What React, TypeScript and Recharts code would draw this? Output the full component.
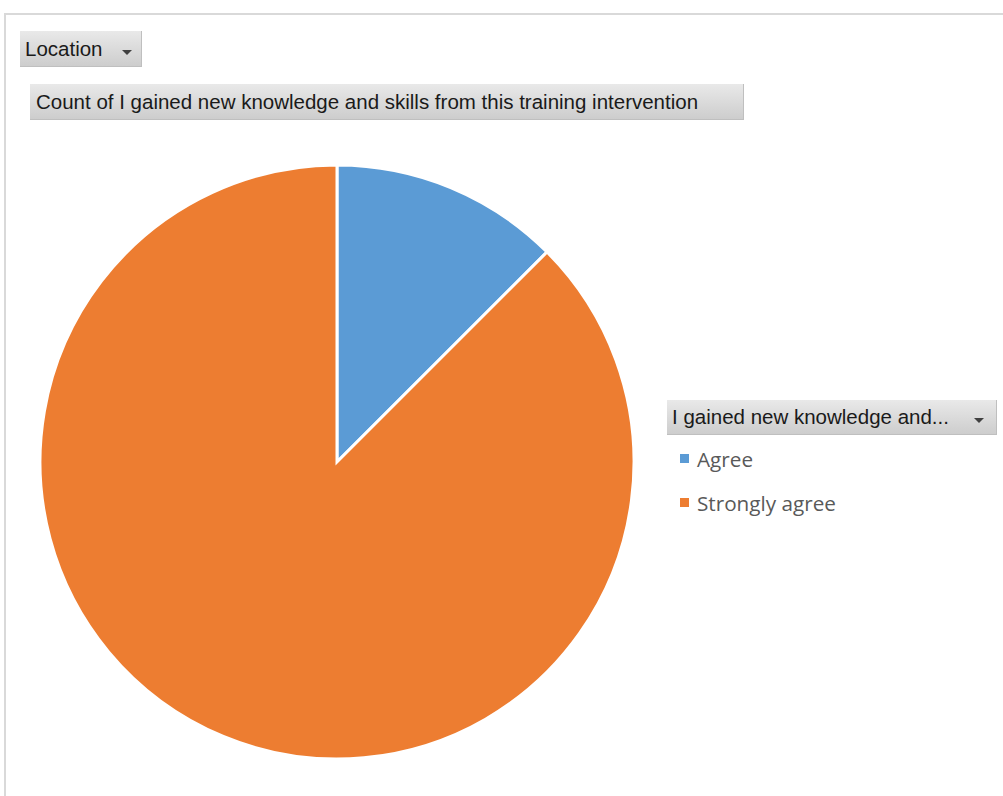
import React from 'react'
import { PieChart, Pie, Cell, Legend } from 'recharts'

// pivot chart: count of responses per answer
const answers = ['Agree', 'Strongly agree']
const counts = [1, 7]
const colors = ['#5B9BD5', '#ED7D31']

const filterLabel = 'Location'
const valueLabel = 'Count of I gained new knowledge and skills from this training intervention'
const legendLabel = 'I gained new knowledge and...'

const pieData = answers.map((name, i) => ({ name, value: counts[i] }))

const btnFont = '"Liberation Sans", Arial, sans-serif'

const Arrow = () => (
  <svg width="10" height="6" style={{ display: 'inline-block' }}>
    <path d="M0 0 L10 0 L5 5 Z" fill="#404040" />
  </svg>
)

const buttonStyle: React.CSSProperties = {
  position: 'absolute',
  background: 'linear-gradient(#e9e9e9, #cdcdcd)',
  borderRight: '1px solid #bfbfbf',
  borderBottom: '1px solid #bfbfbf',
  boxSizing: 'border-box',
  fontFamily: btnFont,
  fontSize: 20.5,
  color: '#1a1a1a',
  display: 'flex',
  alignItems: 'center',
  whiteSpace: 'nowrap',
}

const LegendBox = () => (
  <div style={{ width: 330 }}>
    <div style={{ ...buttonStyle, position: 'relative', width: 330, height: 35, paddingLeft: 5 }}>
      <span style={{ flex: 1 }}>{legendLabel}</span>
      <span style={{ marginRight: 12 }}><Arrow /></span>
    </div>
    {answers.map((a, i) => (
      <div
        key={a}
        style={{
          display: 'flex',
          alignItems: 'center',
          height: 44,
          paddingTop: 3,
          boxSizing: 'border-box',
          paddingLeft: 13,
          fontFamily: '"Open Sans", "Noto Sans", sans-serif',
          fontSize: 20.7,
          color: '#595959',
        }}
      >
        <span style={{ width: 9, height: 9, background: colors[i], marginRight: 8, display: 'inline-block' }} />
        {a}
      </div>
    ))}
  </div>
)

export default function App() {
  return (
    <div style={{ position: 'absolute', left: 0, top: 0, width: 1003, height: 796, background: '#fff', overflow: 'hidden' }}>
      <div
        style={{
          position: 'absolute',
          left: 4,
          top: 13,
          width: 1010,
          height: 800,
          borderLeft: '2px solid #d9d9d9',
          borderTop: '2px solid #d9d9d9',
        }}
      />
      <div style={{ ...buttonStyle, left: 20, top: 31, width: 122, height: 36, paddingLeft: 5 }}>
        <span style={{ flex: 1 }}>{filterLabel}</span>
        <span style={{ marginRight: 9 }}><Arrow /></span>
      </div>
      <div style={{ ...buttonStyle, left: 30, top: 84, width: 714, height: 36, paddingLeft: 6 }}>
        {valueLabel}
      </div>
      <div style={{ position: 'absolute', left: 0, top: 0 }}>
        <PieChart width={1003} height={796} margin={{ top: 0, right: 0, bottom: 0, left: 0 }}>
          <Pie
            data={pieData}
            dataKey="value"
            nameKey="name"
            cx={337}
            cy={462}
            outerRadius={297}
            startAngle={90}
            endAngle={-270}
            stroke="#ffffff"
            strokeWidth={3}
            isAnimationActive={false}
          >
            {pieData.map((d, i) => (
              <Cell key={d.name} fill={colors[i]} />
            ))}
          </Pie>
          <Legend
            layout="vertical"
            content={() => <LegendBox />}
            wrapperStyle={{ left: 667, top: 400, width: 330 }}
          />
        </PieChart>
      </div>
    </div>
  )
}
